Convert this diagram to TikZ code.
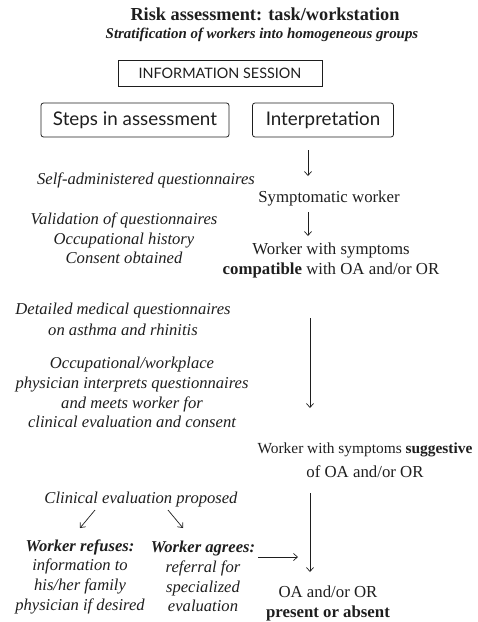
\documentclass[tikz,border=0pt]{standalone}
\usepackage{fontspec}
\setmainfont{Liberation Serif}
\setsansfont{Lato}
\usetikzlibrary{arrows.meta,positioning}
\definecolor{ink}{HTML}{1E1E1E}
\definecolor{frame}{HTML}{707070}

\begin{document}
\begin{tikzpicture}[x=1pt,y=-1pt,
  note/.style={font=\itshape\fontsize{16.6}{19.7}\selectfont,align=center,ink,inner sep=0pt},
  plain/.style={font=\fontsize{16.8}{20}\selectfont,align=center,ink,inner sep=0pt},
  stagebox/.style={draw=frame,line width=0.8pt,rounded corners=2.5pt,font=\sffamily\fontsize{18.8}{20}\selectfont,ink,minimum height=34,inner sep=0pt},
  flow/.style={-{Straight Barb[length=4pt,width=7pt]},ink,line width=0.7pt}]
  \useasboundingbox (0,0) rectangle (478,622);
  % heading
  \node[ink,font=\bfseries\fontsize{18.3}{20}\selectfont] (title) at (265,14) {Risk assessment: task/workstation};
  \node[ink,font=\bfseries\itshape\fontsize{14.9}{17}\selectfont] (sub) at (262,35) {Stratification of workers into homogeneous groups};
  \node[draw=frame,line width=0.8pt,font=\sffamily\fontsize{14.4}{16}\selectfont,ink,minimum width=204,minimum height=26,inner sep=0pt] (info) at (220,73) {INFORMATION SESSION};
  \node[stagebox,minimum width=188] (steps) at (135,120) {Steps in assessment};
  \node[stagebox,minimum width=141] (interp) at (323,120) {Interpretation};
  % left column: steps
  \node[note] (selfq) at (146,180) {Self-administered questionnaires};
  \node[note] (valid) at (124,238.5) {Validation of questionnaires\\ Occupational history\\ Consent obtained};
  \node[note] (detail) at (123,319) {Detailed medical questionnaires\\[1pt] on asthma and rhinitis};
  \node[note] (meet) at (132,392.5) {Occupational/workplace\\ physician interprets questionnaires\\ and meets worker for\\ clinical evaluation and consent};
  \node[note] (clin) at (141,500) {Clinical evaluation proposed};
  \node[note] (refuse) at (80,576.5) {\textbf{Worker refuses:}\\ information to\\ his/her family\\ physician if desired};
  \node[note] (agree) at (203,576.5) {\textbf{Worker agrees:}\\ referral for\\ specialized\\ evaluation};
  % right column: interpretation
  \node[plain] (sympt) at (329,198) {Symptomatic worker};
  \node[plain] (compat) at (331,260) {Worker with symptoms\\ \textbf{compatible} with OA and/or OR};
  \node[plain] (suggest) at (365,460) {{\fontsize{15.4}{18}\selectfont Worker with symptoms \textbf{suggestive}}\\[4pt] of OA and/or OR};
  \node[plain] (outcome) at (328,603) {OA and/or OR\\ \textbf{present or absent}};
  % arrows
  \coordinate (a1) at (308,150); \coordinate (a2) at (308,176);
  \coordinate (b1) at (308,212); \coordinate (b2) at (308,236);
  \coordinate (c1) at (310,318); \coordinate (c2) at (310,408);
  \coordinate (d1) at (310,493); \coordinate (d2) at (310,572);
  \coordinate (f1) at (95,510);  \coordinate (f2) at (80,528);
  \coordinate (g1) at (168,510); \coordinate (g2) at (183,528);
  \coordinate (e1) at (258,557); \coordinate (e2) at (298,557);
  \draw[flow] (a1) -- (a2);
  \draw[flow] (b1) -- (b2);
  \draw[flow] (c1) -- (c2);
  \draw[flow] (d1) -- (d2);
  \draw[flow] (f1) -- (f2);
  \draw[flow] (g1) -- (g2);
  \draw[flow] (e1) -- (e2);
\end{tikzpicture}
\end{document}
